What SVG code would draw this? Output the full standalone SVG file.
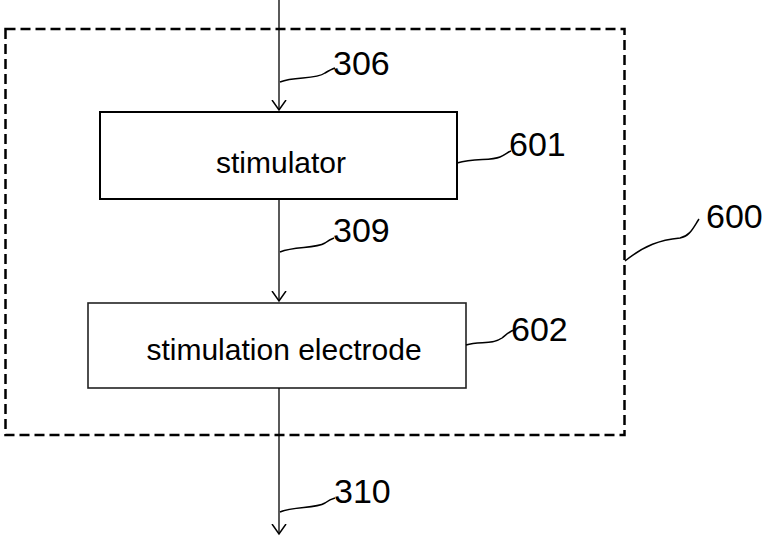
<svg xmlns="http://www.w3.org/2000/svg" width="767" height="539" viewBox="0 0 767 539">
<defs>
<style>
.lbl{font-family:"Liberation Sans",Arial,sans-serif;font-size:34px;fill:#000}
.txt{font-family:"Liberation Sans",Arial,sans-serif;font-size:30px;fill:#000;text-anchor:middle}
.conn{stroke:#000;stroke-width:1.3;fill:none}
.lead{stroke:#000;stroke-width:1.5;fill:none}
</style>
<marker id="arr" markerWidth="20" markerHeight="20" refX="10" refY="10" orient="auto" markerUnits="userSpaceOnUse">
<path d="M0,3 L10,10 L0,17" fill="none" stroke="#000" stroke-width="1.5"/>
</marker>
</defs>
<g id="n600">
<rect x="5.5" y="29" width="619" height="406" fill="none" stroke="#000" stroke-width="2.5" stroke-dasharray="10 5"/>
<path class="lead" d="M625,261 C645,245 660,240 680,238 C690,236 693,228 699,219"/>
<text class="lbl" x="706" y="228">600</text>
</g>
<g id="n601">
<rect x="100" y="112" width="357" height="87" fill="#fff" stroke="#000" stroke-width="2"/>
<text class="txt" x="281" y="173">stimulator</text>
<path class="lead" d="M457,163 C475,158 490,161 500,157 C505,155 508,152 511,151"/>
<text class="lbl" x="509" y="156">601</text>
</g>
<g id="n602">
<rect x="88" y="303" width="378" height="85" fill="#fff" stroke="#222" stroke-width="1.6"/>
<text class="txt" x="284" y="360">stimulation electrode</text>
<path class="lead" d="M466,345 C480,341 492,345 502,338 C507,334 510,331 514,330"/>
<text class="lbl" x="511" y="341">602</text>
</g>
<g id="connectors">
<path class="conn" d="M279,0 L279,110" marker-end="url(#arr)"/>
<path class="conn" d="M279,199 L279,301" marker-end="url(#arr)"/>
<path class="conn" d="M279,388 L279,534" marker-end="url(#arr)"/>
<path class="lead" d="M280,82 C295,76 315,80 325,73 C330,70 332,69 335,68"/>
<text class="lbl" x="333" y="75">306</text>
<path class="lead" d="M280,252 C295,246 315,249 325,243 C329,240 331,239 334,238"/>
<text class="lbl" x="333" y="242">309</text>
<path class="lead" d="M280,512 C295,506 315,509 325,503 C329,500 331,499 335,498"/>
<text class="lbl" x="334" y="503">310</text>
</g>
</svg>
